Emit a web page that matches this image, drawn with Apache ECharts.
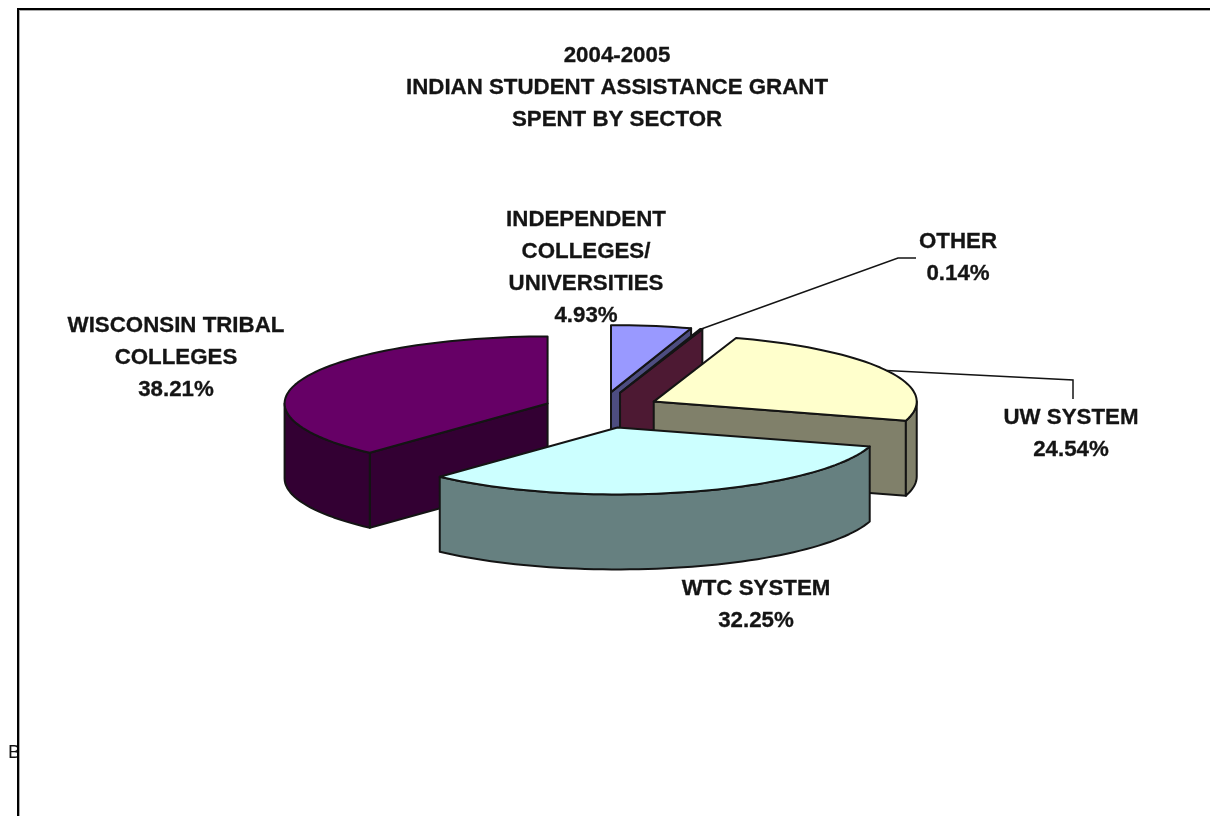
<!DOCTYPE html>
<html>
<head>
<meta charset="utf-8">
<title>Indian Student Assistance Grant</title>
<script src="https://cdn.jsdelivr.net/npm/echarts@6/dist/echarts.min.js"></script>
<style>
    html, body { margin: 0; padding: 0; background: #fff; overflow: hidden; }
    #main { width: 1210px; height: 816px; }
</style>
</head>
<body>
<div id="main"></div>
<script>
// data, clockwise from 12 o'clock
var titleLines = ['2004-2005', 'INDIAN STUDENT ASSISTANCE GRANT', 'SPENT BY SECTOR']
var sectors = ['INDEPENDENT\nCOLLEGES/\nUNIVERSITIES', 'OTHER', 'UW SYSTEM', 'WTC SYSTEM', 'WISCONSIN TRIBAL\nCOLLEGES']
var shares = [4.93, 0.14, 24.54, 32.25, 38.21]

// look
var topColors = ['#9999ff', '#993366', '#ffffcc', '#ccffff', '#660066']
var wallColors = ['#4d4d80', '#4d1933', '#80806a', '#668080', '#330033']
var drawOrder = [4, 0, 1, 2, 3]
var labelPos = [[586, 220], [958, 242], [1071, 418], [756, 589], [176, 326]]
var leaderElbows = [null, [[898, 258], [916, 258]], [[1073, 380], [1073, 399]], null, null]

// fake 3d pie projection
var cx = 602
var cy = 410
var rx = 263
var ry = 67
var depth = 75
var explodeX = 0.222
var explodeY = 0.27
var total = shares.reduce(function (a, b) { return a + b }, 0)

function rim (c, deg, drop) {
    var r = deg * Math.PI / 180
    return [c[0] + Math.sin(r) * rx, c[1] - Math.cos(r) * ry + (drop || 0)]
}

function arcPoints (c, from, to, drop) {
    var pts = []
    var n = Math.max(2, Math.ceil((to - from) / 2))
    for (var i = 0; i <= n; i++) {
        pts.push(rim(c, from + (to - from) * i / n, drop))
    }
    return pts
}

function poly (points, fill) {
    return {
        type: 'polygon',
        shape: { points: points },
        style: { fill: fill, stroke: '#141414', lineWidth: 2, lineJoin: 'round' }
    }
}

function renderSlice (params, api) {
    var idx = api.value(0)
    var start = 0
    for (var i = 0; i < idx; i++) start += shares[i] / total * 360
    var end = start + api.value(1) / total * 360
    var mid = (start + end) / 2
    var c = rim([cx, cy], mid)
    c = [cx + (c[0] - cx) * explodeX, cy + (c[1] - cy) * explodeY]
    var children = []
    var wall = wallColors[idx]
    var low = [c[0], c[1] + depth]

    if (start > 180) {
        children.push(poly([c, rim(c, start), rim(c, start, depth), low], wall))
    }
    if (end < 180) {
        children.push(poly([c, rim(c, end), rim(c, end, depth), low], wall))
    }
    // outer wall only where the rim faces the viewer
    var a = Math.max(start, 90)
    var b = Math.min(end, 270)
    if (b > a) {
        children.push(poly(arcPoints(c, a, b, 0).concat(arcPoints(c, a, b, depth).reverse()), wall))
    }
    children.push(poly([c].concat(arcPoints(c, start, end, 0)), topColors[idx]))

    if (leaderElbows[idx]) {
        children.push({
            type: 'polyline',
            shape: { points: [rim(c, mid)].concat(leaderElbows[idx]) },
            style: { fill: null, stroke: '#141414', lineWidth: 1.5 }
        })
    }
    return { type: 'group', children: children }
}

var textStyle = {
    fontFamily: '"Liberation Sans", Arial, sans-serif',
    fontWeight: 'bold',
    fontSize: 22.3,
    lineHeight: 32,
    fill: '#141414',
    stroke: '#141414',
    lineWidth: 0.3,
    align: 'center',
    verticalAlign: 'top'
}

function textEl (text, x, y) {
    return {
        type: 'text',
        x: x,
        y: y - 16,
        z: 5,
        style: Object.assign({}, textStyle, { text: text })
    }
}

var graphics = [
    // cut off letter left of the frame
    {
        type: 'text', x: 8, y: 743, z: 1,
        style: { text: 'B', fontFamily: '"Liberation Sans", Arial, sans-serif', fontSize: 19, fill: '#111' }
    },
    { type: 'rect', shape: { x: 19, y: 11, width: 1191, height: 805 }, z: 2, style: { fill: '#fff' } },
    { type: 'rect', shape: { x: 17, y: 8, width: 1193, height: 2 }, z: 3, style: { fill: '#000' } },
    { type: 'rect', shape: { x: 17, y: 8, width: 2, height: 808 }, z: 3, style: { fill: '#000' } },
    { type: 'rect', shape: { x: 19, y: 10, width: 1191, height: 1 }, z: 3, style: { fill: '#aaa' } },
    { type: 'rect', shape: { x: 19, y: 10, width: 1, height: 806 }, z: 3, style: { fill: '#aaa' } },
    textEl(titleLines.join('\n'), 617, 56)
]
sectors.forEach(function (name, i) {
    graphics.push(textEl(name + '\n' + shares[i].toFixed(2) + '%', labelPos[i][0], labelPos[i][1]))
})

var chart = echarts.init(document.getElementById('main'), null, { renderer: 'canvas' })
chart.setOption({
    animation: false,
    backgroundColor: '#fff',
    graphic: { elements: graphics },
    series: [{
        type: 'custom',
        coordinateSystem: 'none',
        silent: true,
        z: 10,
        renderItem: renderSlice,
        data: drawOrder.map(function (i) { return [i, shares[i]] })
    }]
})
</script>
</body>
</html>
